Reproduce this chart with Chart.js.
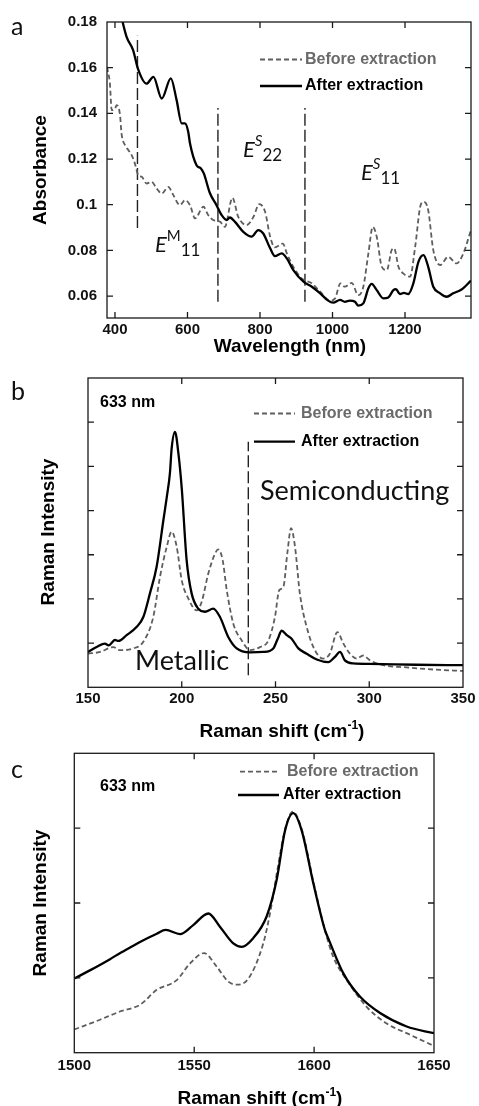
<!DOCTYPE html>
<html>
<head>
<meta charset="utf-8">
<script src="https://cdn.jsdelivr.net/npm/chart.js@4.4.1/dist/chart.umd.min.js"></script>
<style>
  html, body { margin: 0; padding: 0; background: #fff; }
  #page { position: relative; width: 479px; height: 1106px; overflow: hidden; background: #fff; }
  #page canvas { position: absolute; left: 0; }
  #caption { position: absolute; left: 30px; top: -23px; margin: 0; white-space: nowrap;
             font: bold 20px/20px "Liberation Serif", "Times New Roman", serif; color: #000; z-index: 2; }
</style>
</head>
<body>
<div id="page">
  <canvas id="cA" width="479" height="365" style="top:0px"></canvas>
  <canvas id="cB" width="479" height="380" style="top:365px"></canvas>
  <canvas id="cC" width="479" height="361" style="top:745px"></canvas>
  <p id="caption">Figure S3. Absorbance and microscopy and Raman spectra of the nanotubes</p>
</div>
<script>
// ---------- Panel a: absorbance (UV-vis-NIR) ----------
const absAfterNm = [380, 400, 421, 432, 450, 463, 487, 506, 529, 554, 570, 584, 593, 602, 607, 625, 637, 645, 662, 680,
  694, 708, 717, 731, 754, 777, 795, 809, 828, 841, 860, 874, 892, 920, 943, 966, 988, 1002, 1021, 1034,
  1048, 1062, 1071, 1085, 1099, 1108, 1122, 1140, 1154, 1168, 1175, 1186, 1197, 1209, 1223, 1237, 1251, 1264, 1278, 1297,
  1315, 1333, 1356, 1382];
const absAfter = [0.215, 0.195, 0.18, 0.1735, 0.1677, 0.1597, 0.153, 0.156, 0.1465, 0.1553, 0.1458, 0.1356, 0.1356, 0.132, 0.1268, 0.1173, 0.1159, 0.1137, 0.105, 0.0998,
  0.0955, 0.0933, 0.0944, 0.0925, 0.0881, 0.086, 0.0889, 0.0874, 0.0809, 0.0775, 0.0787, 0.0765, 0.0714, 0.0663, 0.0641, 0.0612, 0.058, 0.0571, 0.0583, 0.0575,
  0.058, 0.0575, 0.0558, 0.0568, 0.0634, 0.0653, 0.0626, 0.059, 0.0594, 0.0626, 0.063, 0.0609, 0.0614, 0.0609, 0.0656, 0.075, 0.0779, 0.0728, 0.0641, 0.0612,
  0.0597, 0.0612, 0.0629, 0.0668];
const absBeforeNm = [378, 386, 391, 400, 405, 414, 418, 428, 437, 446, 455, 464, 474, 487, 501, 515, 529, 547, 561, 579,
  593, 607, 621, 644, 657, 671, 690, 703, 724, 740, 763, 782, 798, 814, 828, 841, 863, 874, 892, 915,
  943, 966, 993, 1007, 1022, 1034, 1053, 1071, 1085, 1099, 1111, 1122, 1136, 1150, 1163, 1170, 1182, 1195, 1214, 1228,
  1243, 1252, 1264, 1278, 1297, 1319, 1342, 1361, 1382];
const absBefore = [0.1603, 0.153, 0.1414, 0.1421, 0.1436, 0.1392, 0.1312, 0.126, 0.1239, 0.1217, 0.118, 0.113, 0.1122, 0.1093, 0.11, 0.1071, 0.1049, 0.1078, 0.1042, 0.0998,
  0.102, 0.0998, 0.094, 0.0991, 0.0955, 0.0933, 0.0925, 0.0903, 0.103, 0.0947, 0.0911, 0.0947, 0.1003, 0.0969, 0.086, 0.0813, 0.083, 0.0787, 0.0728, 0.0677,
  0.0656, 0.0619, 0.058, 0.059, 0.0656, 0.0641, 0.0658, 0.0604, 0.0641, 0.0787, 0.0903, 0.086, 0.0728, 0.0714, 0.0801, 0.0809, 0.0728, 0.0699, 0.0685, 0.0816,
  0.0998, 0.1013, 0.0976, 0.0801, 0.0736, 0.0772, 0.0743, 0.0787, 0.089];
// region boundaries (E11 metallic / E22 / E11 semiconducting)
const absBoundNm = [462, 684, 924];
const absBoundLow = [0.0898, 0.0575, 0.0575];
const absBoundHigh = [0.174, 0.1423, 0.1423];
const absXTicks = [400, 600, 800, 1000, 1200];
const absYTicks = [0.06, 0.08, 0.1, 0.12, 0.14, 0.16, 0.18];

// ---------- Panel b: RBM region, 633 nm ----------
const rbmAfterShift = [150, 154.6, 159, 161, 164.4, 166.2, 170.6, 176, 179.5, 183, 186.6, 190.2, 192, 193.7, 194.6, 196.4, 198.2, 200, 202.6, 205.3,
  208.8, 212.4, 216.8, 220.4, 224.8, 229.3, 236.4, 243.5, 248.8, 251.2, 253.3, 256, 258.6, 262.2, 266.6, 272, 278.2, 281.7, 284.4, 287,
  291.5, 300, 325, 350];
const rbmAfter = [0.80, 0.91, 0.99, 0.95, 1.07, 1.05, 1.18, 1.37, 1.59, 2.12, 2.73, 3.78, 4.30, 4.85, 5.40, 5.78, 5.30, 4.50, 2.88, 2.12,
  1.78, 1.71, 1.78, 1.59, 1.14, 0.88, 0.79, 0.80, 0.88, 1.10, 1.28, 1.18, 1.10, 0.88, 0.76, 0.63, 0.57, 0.69, 0.80, 0.61,
  0.54, 0.53, 0.51, 0.50];
const rbmBeforeShift = [150, 156.4, 163.5, 167, 174.2, 179.5, 184.8, 188.4, 192, 194.6, 197.3, 200, 203.5, 208, 210.6, 214.2, 217.8, 219.5, 221.8, 224,
  227.5, 232, 236.4, 241.7, 246.2, 249.7, 252, 254.2, 256.3, 258.3, 260.4, 263, 266.6, 271, 275.5, 279, 283, 286.2, 289.7, 293.3,
  296.8, 300.4, 307.5, 320, 335, 350];
const rbmBefore = [0.76, 0.80, 0.91, 0.84, 0.88, 1.03, 1.59, 2.50, 3.18, 3.52, 3.18, 2.42, 2.01, 1.74, 1.93, 2.58, 3.03, 3.12, 2.88, 2.20,
  1.44, 1.06, 0.84, 0.91, 1.06, 1.59, 2.20, 2.27, 3.03, 3.60, 3.18, 2.12, 1.37, 0.84, 0.65, 0.76, 1.25, 0.99, 0.76, 0.65,
  0.72, 0.61, 0.50, 0.45, 0.40, 0.37];
const rbmBoundShift = [235.5];
const rbmBoundLow = [0.27];
const rbmBoundHigh = [5.56];
const rbmXTicks = [150, 200, 250, 300, 350];
const rbmYTicks = [1, 2, 3, 4, 5, 6];

// ---------- Panel c: G band, 633 nm ----------
const gAfterShift = [1500, 1506.5, 1514.9, 1519, 1524.6, 1527.4, 1534.4, 1538.1, 1544.1, 1549.6, 1555.9, 1560.8, 1566.3, 1569.8, 1574.6, 1580.2, 1584.4, 1587.9, 1591.3, 1594.8,
  1599.7, 1604.5, 1606, 1612.2, 1619.1, 1627.5, 1638.6, 1650];
const gAfter = [0.99, 1.10, 1.25, 1.33, 1.43, 1.48, 1.59, 1.64, 1.585, 1.705, 1.86, 1.68, 1.46, 1.415, 1.53, 1.82, 2.31, 2.97, 3.20, 2.97,
  2.26, 1.64, 1.52, 1.06, 0.75, 0.53, 0.35, 0.26];
const gBeforeShift = [1500, 1510.7, 1519, 1527.4, 1534.4, 1542.7, 1548.2, 1554.1, 1559.4, 1564.2, 1567.7, 1572.6, 1578.8, 1581.6, 1585, 1588, 1591.2, 1595, 1600, 1605,
  1608, 1613.6, 1622, 1630.3, 1640, 1650];
const gBefore = [0.31, 0.44, 0.55, 0.64, 0.84, 0.97, 1.19, 1.33, 1.15, 0.95, 0.91, 0.99, 1.46, 1.86, 2.50, 3.00, 3.22, 2.97, 2.24, 1.58,
  1.28, 0.97, 0.61, 0.39, 0.24, 0.09];
const gXTicks = [1500, 1550, 1600, 1650];
const gYTicks = [1, 2, 3];

// ---------- helpers ----------
const SANS = '"Liberation Sans", Arial, sans-serif';
const SOFT = 'Lato, "Open Sans", sans-serif';
const BEFORE_COLOR = '#5e5e5e';

function pts(xs, ys) { return xs.map((x, i) => ({ x: x, y: ys[i] })); }

function beforeSet(xs, ys) {
  return { data: pts(xs, ys), borderColor: BEFORE_COLOR, borderWidth: 1.8, borderDash: [5, 3],
           cubicInterpolationMode: 'monotone', clip: 0, order: 2, pointRadius: 0 };
}
function afterSet(xs, ys) {
  return { data: pts(xs, ys), borderColor: '#000', borderWidth: 2.3,
           cubicInterpolationMode: 'monotone', clip: 0, order: 1, pointRadius: 0 };
}
function boundSets(xs, lo, hi) {
  return xs.map((x, i) => ({ data: [{ x: x, y: lo[i] }, { x: x, y: hi[i] }], borderColor: '#222',
    borderWidth: 1.4, borderDash: [12, 4], tension: 0, clip: 0, order: 3, pointRadius: 0 }));
}

// Draws a row of text runs (for super/subscripts) starting at x
function drawRuns(ctx, list, x, y, align) {
  const widths = [];
  let total = 0;
  list.forEach((r, i) => { ctx.font = r.font; widths[i] = ctx.measureText(r.t).width; total += widths[i]; });
  let cx = align === 'center' ? x - total / 2 : (align === 'right' ? x - total : x);
  list.forEach((r, i) => {
    ctx.font = r.font; ctx.fillStyle = r.color || '#111';
    ctx.textAlign = 'left';
    ctx.fillText(r.t, cx, y + (r.dy || 0));
    cx += widths[i];
  });
}

// Frame, inward ticks on four sides, legend and annotations
const decor = {
  id: 'decor',
  afterDraw(chart, args, o) {
    const ctx = chart.ctx, a = chart.chartArea, off = o.top;
    const xs = chart.scales.x, ys = chart.scales.y;
    ctx.save();
    ctx.strokeStyle = '#1a1a1a';
    ctx.lineWidth = 1.3;
    ctx.setLineDash([]);
    ctx.strokeRect(a.left, a.top, a.right - a.left, a.bottom - a.top);
    const tl = 6;
    ctx.beginPath();
    xs.ticks.forEach(t => {
      const p = xs.getPixelForValue(t.value);
      if (p <= a.left + 1 || p >= a.right - 1) return;
      ctx.moveTo(p, a.bottom); ctx.lineTo(p, a.bottom - tl);
      ctx.moveTo(p, a.top); ctx.lineTo(p, a.top + tl);
    });
    ys.ticks.forEach(t => {
      const p = ys.getPixelForValue(t.value);
      if (p <= a.top + 1 || p >= a.bottom - 1) return;
      ctx.moveTo(a.left, p); ctx.lineTo(a.left + tl, p);
      ctx.moveTo(a.right, p); ctx.lineTo(a.right - tl, p);
    });
    ctx.stroke();

    // legend
    (o.legend || []).forEach(l => {
      const y = l.y - off;
      ctx.beginPath();
      ctx.strokeStyle = l.dashed ? BEFORE_COLOR : '#000';
      ctx.lineWidth = l.dashed ? 1.8 : 2.3;
      ctx.setLineDash(l.dashed ? [5, 3] : []);
      ctx.moveTo(l.x0, y); ctx.lineTo(l.x1, y);
      ctx.stroke();
      ctx.setLineDash([]);
      ctx.font = 'bold 16px ' + SANS;
      ctx.fillStyle = l.dashed ? '#6a6a6a' : '#000';
      ctx.textAlign = 'left'; ctx.textBaseline = 'middle';
      ctx.fillText(l.label, l.tx, y);
    });

    // free text
    (o.texts || []).forEach(t => {
      ctx.save();
      ctx.translate(t.x, t.y - off);
      if (t.rot) ctx.rotate(t.rot);
      ctx.textBaseline = t.base || 'alphabetic';
      drawRuns(ctx, t.runs, 0, 0, t.align || 'left');
      ctx.restore();
    });
    ctx.restore();
  }
};

function makePanel(id, top, height, area, x, y, datasets, decorOpts) {
  return new Chart(document.getElementById(id), {
    type: 'line',
    data: { datasets: datasets },
    options: {
      responsive: false,
      animation: false,
      devicePixelRatio: 1,
      layout: { padding: { left: 0, top: area.top - top, right: 479 - area.right, bottom: 0 } },
      plugins: { legend: { display: false }, tooltip: { enabled: false }, decor: Object.assign({ top: top }, decorOpts) },
      scales: {
        x: {
          type: 'linear', min: x.min, max: x.max,
          grid: { display: false, drawTicks: false }, border: { display: false },
          afterBuildTicks: s => { s.ticks = x.ticks.map(v => ({ value: v })); },
          ticks: { font: { family: SANS, weight: 'bold', size: 15 }, color: '#111', padding: x.pad,
                   autoSkip: false, maxRotation: 0, minRotation: 0, callback: v => String(v) },
          afterFit: s => { s.height = top + height - area.bottom; s.paddingLeft = 0; s.paddingRight = 0; }
        },
        y: {
          type: 'linear', min: y.min, max: y.max,
          grid: { display: false, drawTicks: false }, border: { display: false },
          afterBuildTicks: s => { s.ticks = y.ticks.map(v => ({ value: v })); },
          ticks: { display: y.labels, font: { family: SANS, weight: 'bold', size: 15 }, color: '#111',
                   padding: 10, callback: v => String(v) },
          afterFit: s => { s.width = area.left; s.paddingTop = 0; s.paddingBottom = 0; }
        }
      }
    },
    plugins: [decor]
  });
}

// ---------- Panel a ----------
makePanel('cA', 0, 365, { left: 107, right: 471, top: 22, bottom: 318 },
  { min: 378, max: 1382, ticks: absXTicks, pad: 3 },
  { min: 0.0504, max: 0.18, ticks: absYTicks, labels: true },
  [afterSet(absAfterNm, absAfter), beforeSet(absBeforeNm, absBefore)].concat(boundSets(absBoundNm, absBoundLow, absBoundHigh)),
  {
    legend: [
      { dashed: true, x0: 260, x1: 302, y: 59.5, tx: 305, label: 'Before extraction' },
      { dashed: false, x0: 260, x1: 302, y: 86, tx: 305, label: 'After extraction' }
    ],
    texts: [
      { x: 11, y: 35, runs: [{ t: 'a', font: '25px ' + SOFT, color: '#111' }] },
      { x: 41, y: 170, rot: -Math.PI / 2, align: 'center', base: 'middle', runs: [{ t: 'Absorbance', font: 'bold 19px ' + SANS, color: '#000' }] },
      { x: 290, y: 347, align: 'center', base: 'middle', runs: [{ t: 'Wavelength (nm)', font: 'bold 19px ' + SANS, color: '#000' }] },
      { x: 155, y: 252, runs: [
          { t: 'E', font: 'italic 22px ' + SOFT, color: '#111' },
          { t: 'M', font: '15px ' + SOFT, color: '#111', dy: -11 },
          { t: '11', font: '17px ' + SOFT, color: '#111', dy: 4 } ] },
      { x: 243, y: 157, runs: [
          { t: 'E', font: 'italic 22px ' + SOFT, color: '#111' },
          { t: 'S', font: 'italic 15px ' + SOFT, color: '#111', dy: -11 },
          { t: '22', font: '17px ' + SOFT, color: '#111', dy: 4 } ] },
      { x: 361, y: 180, runs: [
          { t: 'E', font: 'italic 22px ' + SOFT, color: '#111' },
          { t: 'S', font: 'italic 15px ' + SOFT, color: '#111', dy: -11 },
          { t: '11', font: '17px ' + SOFT, color: '#111', dy: 4 } ] }
    ]
  });

// ---------- Panel b ----------
makePanel('cB', 365, 380, { left: 88, right: 463, top: 378, bottom: 687.3 },
  { min: 150, max: 350, ticks: rbmXTicks, pad: 3 },
  { min: 0, max: 7, ticks: rbmYTicks, labels: false },
  [afterSet(rbmAfterShift, rbmAfter), beforeSet(rbmBeforeShift, rbmBefore)].concat(boundSets(rbmBoundShift, rbmBoundLow, rbmBoundHigh)),
  {
    legend: [
      { dashed: true, x0: 254, x1: 295, y: 413.5, tx: 301, label: 'Before extraction' },
      { dashed: false, x0: 254, x1: 295, y: 441.7, tx: 301, label: 'After extraction' }
    ],
    texts: [
      { x: 11, y: 400, runs: [{ t: 'b', font: '25px ' + SOFT, color: '#111' }] },
      { x: 100, y: 403, base: 'middle', runs: [{ t: '633 nm', font: 'bold 16px ' + SANS, color: '#000' }] },
      { x: 260, y: 500, runs: [{ t: 'Semiconducting', font: '27px ' + SOFT, color: '#111' }] },
      { x: 135, y: 670, runs: [{ t: 'Metallic', font: '27px ' + SOFT, color: '#111' }] },
      { x: 49, y: 532, rot: -Math.PI / 2, align: 'center', base: 'middle', runs: [{ t: 'Raman Intensity', font: 'bold 19px ' + SANS, color: '#000' }] },
      { x: 282, y: 737, align: 'center', runs: [
          { t: 'Raman shift (cm', font: 'bold 19px ' + SANS, color: '#000' },
          { t: '-1', font: 'bold 12px ' + SANS, color: '#000', dy: -8 },
          { t: ')', font: 'bold 19px ' + SANS, color: '#000' } ] }
    ]
  });

// ---------- Panel c ----------
makePanel('cC', 745, 361, { left: 74.3, right: 434, top: 753.3, bottom: 1052.7 },
  { min: 1500, max: 1650, ticks: gXTicks, pad: 4 },
  { min: 0, max: 4, ticks: gYTicks, labels: false },
  [afterSet(gAfterShift, gAfter), beforeSet(gBeforeShift, gBefore)],
  {
    legend: [
      { dashed: true, x0: 240, x1: 280, y: 771.7, tx: 287, label: 'Before extraction' },
      { dashed: false, x0: 238, x1: 279, y: 795, tx: 283, label: 'After extraction' }
    ],
    texts: [
      { x: 11, y: 778, runs: [{ t: 'c', font: '25px ' + SOFT, color: '#111' }] },
      { x: 100, y: 787, base: 'middle', runs: [{ t: '633 nm', font: 'bold 16px ' + SANS, color: '#000' }] },
      { x: 41, y: 903, rot: -Math.PI / 2, align: 'center', base: 'middle', runs: [{ t: 'Raman Intensity', font: 'bold 19px ' + SANS, color: '#000' }] },
      { x: 260, y: 1104, align: 'center', runs: [
          { t: 'Raman shift (cm', font: 'bold 19px ' + SANS, color: '#000' },
          { t: '-1', font: 'bold 12px ' + SANS, color: '#000', dy: -8 },
          { t: ')', font: 'bold 19px ' + SANS, color: '#000' } ] }
    ]
  });
</script>
</body>
</html>
